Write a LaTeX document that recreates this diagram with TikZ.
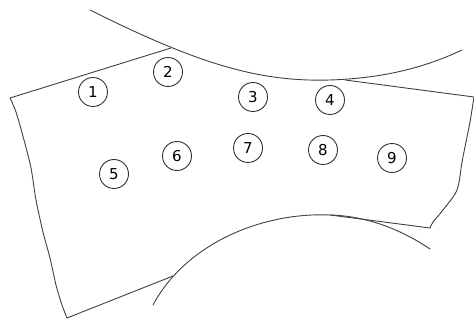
\documentclass[tikz,border=0pt]{standalone}
\usepackage{fontspec}
\setmainfont{DejaVu Sans}
\begin{document}
\begin{tikzpicture}[
  x=1pt, y=-1pt,
  edge/.style={draw=black!75, line width=0.9pt, line cap=round, line join=round},
  hole/.style={circle, draw=black!80, line width=0.9pt, minimum size=29pt, inner sep=0pt,
    font=\fontsize{15}{15}\selectfont}
]
\useasboundingbox (0,0) rectangle (474,320);
% rolls
\draw[edge] (90,10) .. controls (200,65) and (260,82) .. (330,80)
  .. controls (390,78) and (430,65) .. (462,50);
\draw[edge] (153,305) .. controls (185,245) and (260,212) .. (330,215)
  .. controls (370,216) and (405,232) .. (430,249);
% plate outline
\coordinate (tl) at (10,98);
\coordinate (tm) at (171,48);
\coordinate (tr) at (474,97);
\coordinate (br) at (430,228);
\coordinate (bm) at (173,276);
\coordinate (bl) at (67,318);
\draw[edge] (tl) -- (tm);
\draw[edge] (345,80) -- (tr);
\draw[edge] plot[smooth, tension=0.5] coordinates {(tr) (470,122) (466,142) (462,162) (457,190) (443,210) (433,222) (br)};
\draw[edge] (br) -- (330,215);
\draw[edge] (bm) -- (bl);
\draw[edge] plot[smooth, tension=0.5] coordinates {(tl) (16,112) (24,140) (31,168) (36,200) (43,232) (50,258) (56,285) (62,305) (bl)};
% numbered holes
\foreach \i/\x/\y in {1/93/92,2/168/72,3/253/97,4/330/100,5/114/174,6/177/156,7/248/148,8/323/150,9/392/158} {
  \node[hole] (h\i) at (\x,\y) {\i};
}
\end{tikzpicture}
\end{document}
